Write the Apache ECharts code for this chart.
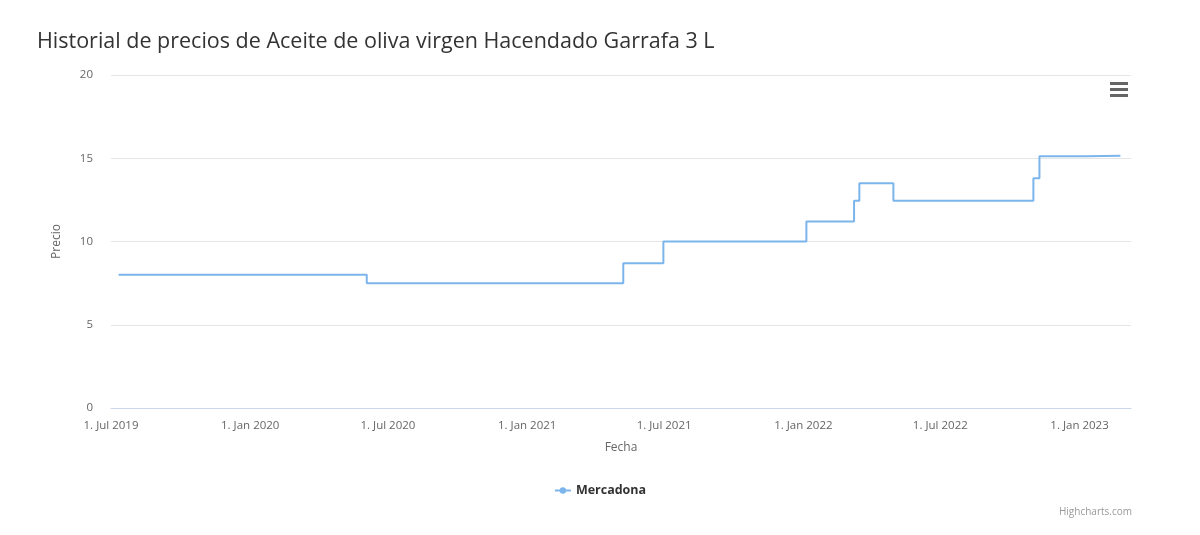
<!DOCTYPE html>
<html><head><meta charset="utf-8">
<script src="https://cdn.jsdelivr.net/npm/echarts@6/dist/echarts.min.js"></script>
<style>html,body{margin:0;padding:0;background:#fff}#c{width:1200px;height:535px}</style>
</head><body><div id="c"></div>
<script>
const dates = ['2019-07-11','2020-06-03','2021-05-08','2021-06-30','2022-01-05','2022-03-09','2022-03-16','2022-04-30','2022-11-01','2022-11-09','2023-01-11','2023-02-24'];
const prices = [8.0,7.5,8.7,10.0,11.2,12.45,13.5,12.45,13.8,15.12,15.15,15.15];
const yTicks = [0,5,10,15,20];
const months = ['Jan','Feb','Mar','Apr','May','Jun','Jul','Aug','Sep','Oct','Nov','Dec'];
const chart = echarts.init(document.getElementById('c'));
chart.setOption({
  animation:false,
  title:{text:'Historial de precios de Aceite de oliva virgen Hacendado Garrafa 3 L',left:32,top:26,textStyle:{fontFamily:'Open Sans',fontSize:21.5,fontWeight:'normal',color:'#333'}},
  grid:{left:111,right:69,top:75,bottom:127},
  legend:{bottom:33,left:'center',data:['Mercadona'],itemWidth:16,itemHeight:8,textStyle:{fontFamily:'Open Sans',fontSize:12.5,fontWeight:'bold',color:'#333'}},
  xAxis:{type:'time',min:+new Date('2019-07-01'),max:+new Date('2023-03-10'),
    name:'Fecha',nameLocation:'middle',nameGap:34,nameTextStyle:{fontFamily:'Open Sans',fontSize:12,color:'#666'},
    splitLine:{show:false},axisTick:{show:false},
    axisLine:{lineStyle:{color:'#ccd6eb'}},
    axisLabel:{fontFamily:'Open Sans',fontSize:11.5,color:'#666',margin:12,hideOverlap:false,
      formatter:function(v){const d=new Date(v);if(d.getDate()===1&&(d.getMonth()===0||d.getMonth()===6))return '1. '+months[d.getMonth()]+' '+d.getFullYear();return '';}}},
  yAxis:{type:'value',min:0,max:20,interval:5,name:'Precio',nameLocation:'middle',nameGap:48,
    nameTextStyle:{fontFamily:'Open Sans',fontSize:12,color:'#666'},
    axisLabel:{fontFamily:'Open Sans',fontSize:11.5,color:'#666',margin:18,formatter:v=>yTicks.includes(v)?String(v):''},
    splitLine:{lineStyle:{color:'#e6e6e6'}}},
  series:[{name:'Mercadona',type:'line',step:'end',showSymbol:false,symbol:'circle',symbolSize:8,
    itemStyle:{color:'#7cb5ec'},lineStyle:{color:'#7cb5ec',width:2},
    data:dates.map((d,i)=>[d,prices[i]])}],
  graphic:[
    {type:'group',left:1110,top:82,children:[0,6,12].map(y=>({type:'rect',shape:{x:0,y:y,width:18,height:3},style:{fill:'#666'}}))},
    {type:'text',right:68,bottom:18,style:{text:'Highcharts.com',fill:'#999',fontSize:10,fontFamily:'Open Sans'}}
  ]
});
</script></body></html>
